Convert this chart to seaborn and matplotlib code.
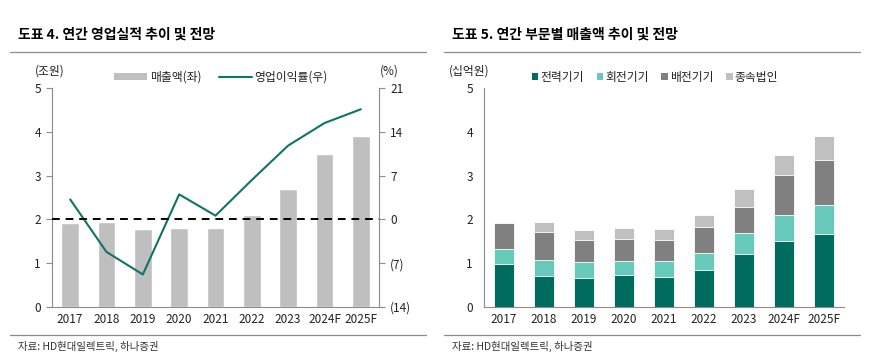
import seaborn as sns
import matplotlib
matplotlib.use("Agg")
import matplotlib.pyplot as plt
from matplotlib.patches import Patch
from matplotlib.lines import Line2D
from matplotlib.ticker import FuncFormatter, FixedLocator
import numpy as np
import pandas as pd

# 데이터
years = ["2017", "2018", "2019", "2020", "2021", "2022", "2023", "2024F", "2025F"]
sales = [1.91, 1.95, 1.78, 1.81, 1.81, 2.10, 2.70, 3.49, 3.91]       # 매출액 (조원)
op_margin = [3.2, -5.2, -8.8, 4.0, 0.6, 6.3, 11.8, 15.4, 17.6]       # 영업이익률 (%)

power = [0.98, 0.70, 0.66, 0.73, 0.68, 0.84, 1.21, 1.50, 1.67]       # 전력기기
rotating = [0.35, 0.37, 0.36, 0.32, 0.37, 0.40, 0.47, 0.59, 0.66]    # 회전기기
distrib = [0.58, 0.64, 0.51, 0.51, 0.48, 0.58, 0.60, 0.92, 1.03]     # 배전기기
subsid = [0.00, 0.22, 0.23, 0.24, 0.26, 0.28, 0.41, 0.47, 0.54]      # 종속법인

seg_names = ["전력기기", "회전기기", "배전기기", "종속법인"]
seg_colors = ["#006B5F", "#66C9B9", "#808080", "#C0C0C0"]

sns.set_style("white")
plt.rcParams['font.family'] = ['Noto Sans CJK KR', 'DejaVu Sans']

TXT = "#222222"
SPINE = "#8C8C8C"
FS = 8.5

fig = plt.figure(figsize=(8.75, 3.57), dpi=100)


def deco(ax):
    # 카테고리 사이에 눈금
    ax.set_xlim(-0.5, len(years) - 0.5)
    ax.set_xticks(range(len(years)))
    ax.set_xticklabels(years)
    ax.xaxis.set_minor_locator(FixedLocator(np.arange(-0.5, len(years), 1)))
    ax.tick_params(axis="x", which="major", length=0, pad=4, labelsize=FS, colors=TXT)
    ax.tick_params(axis="x", which="minor", length=4, width=0.8, color=SPINE, direction="out")
    ax.tick_params(axis="y", length=4, width=0.8, color=SPINE, labelsize=FS, labelcolor=TXT, direction="out", pad=4)
    ax.set_ylim(0, 5)
    ax.set_yticks([0, 1, 2, 3, 4, 5])
    for s in ["top", "right"]:
        ax.spines[s].set_visible(False)
    for s in ["left", "bottom"]:
        ax.spines[s].set_color(SPINE)
        ax.spines[s].set_linewidth(0.8)
    ax.set_xlabel("")
    ax.set_ylabel("")
    ax.grid(False)


# ---------- 도표 4 ----------
ax1 = fig.add_axes([52 / 875, 1 - 307 / 357, 327 / 875, 219 / 357])
df1 = pd.DataFrame({"year": years, "sales": sales, "margin": op_margin})
sns.barplot(data=df1, x="year", y="sales", color="#BFBFBF", width=0.49, saturation=1, ax=ax1)
deco(ax1)

ax1r = ax1.twinx()
sns.lineplot(x=np.arange(len(years)), y=op_margin, color="#0E7566", linewidth=1.5, ax=ax1r)
ax1r.axhline(0, color="black", linestyle=(0, (4, 3)), linewidth=1.4)
ax1r.set_ylim(-14, 21)
ax1r.set_yticks([-14, -7, 0, 7, 14, 21])
ax1r.yaxis.set_major_formatter(FuncFormatter(lambda v, p: f"({abs(int(v))})" if v < 0 else f"{int(v)}"))
ax1r.tick_params(axis="y", length=4, width=0.8, color=SPINE, labelsize=FS, labelcolor=TXT, direction="out", pad=4)
for s in ["top", "left", "bottom"]:
    ax1r.spines[s].set_visible(False)
ax1r.spines["right"].set_color(SPINE)
ax1r.spines["right"].set_linewidth(0.8)
ax1r.set_xlim(-0.5, len(years) - 0.5)
ax1r.grid(False)

fig.text(35 / 875, 1 - 71 / 357, "(조원)", fontsize=FS, color=TXT, va="center")
fig.text(380 / 875, 1 - 71 / 357, "(%)", fontsize=FS, color=TXT, va="center")

h1 = [Patch(facecolor="#BFBFBF", edgecolor="none"),
      Line2D([0], [0], color="#0E7566", linewidth=1.5)]
fig.legend(h1, ["매출액(좌)", "영업이익률(우)"], loc="center", bbox_to_anchor=(221 / 875, 1 - 77 / 357),
           ncol=2, frameon=False, fontsize=FS, handlelength=2.8, handleheight=0.6,
           handletextpad=0.2, columnspacing=1.5, labelcolor=TXT)

# ---------- 도표 5 ----------
ax2 = fig.add_axes([484 / 875, 1 - 307 / 357, 360 / 875, 219 / 357])
stack = np.array([power, rotating, distrib, subsid])
cum = np.cumsum(stack, axis=0)
# 누적 막대: 큰 값부터 덮어 그림
for i in range(3, -1, -1):
    sns.barplot(x=years, y=cum[i], color=seg_colors[i], width=0.5, saturation=1,
                edgecolor="white", linewidth=0.6, ax=ax2)
deco(ax2)

fig.text(449 / 875, 1 - 71 / 357, "(십억원)", fontsize=FS, color=TXT, va="center")
h2 = [Patch(facecolor=c, edgecolor="none") for c in seg_colors]
fig.legend(h2, seg_names, loc="center", bbox_to_anchor=(655 / 875, 1 - 77 / 357),
           ncol=4, frameon=False, fontsize=FS, handlelength=0.55, handleheight=0.55,
           handletextpad=0.15, columnspacing=1.1, labelcolor=TXT)

# ---------- 제목, 구분선, 출처 ----------
fig.text(18 / 875, 1 - 35 / 357, "도표 4. 연간 영업실적 추이 및 전망", fontsize=10, fontweight="bold", color="black", va="center")
fig.text(452 / 875, 1 - 35 / 357, "도표 5. 연간 부문별 매출액 추이 및 전망", fontsize=10, fontweight="bold", color="black", va="center")
for x0, x1 in [(10, 426), (444, 860)]:
    for yy in [52, 335]:
        fig.add_artist(Line2D([x0 / 875, x1 / 875], [1 - yy / 357, 1 - yy / 357], color="#8C8C8C", linewidth=0.9))
fig.text(18 / 875, 1 - 346 / 357, "자료: HD현대일렉트릭, 하나증권", fontsize=7.5, color="#333333", va="center")
fig.text(452 / 875, 1 - 346 / 357, "자료: HD현대일렉트릭, 하나증권", fontsize=7.5, color="#333333", va="center")

fig.savefig("out.png", dpi=100, facecolor="white")
